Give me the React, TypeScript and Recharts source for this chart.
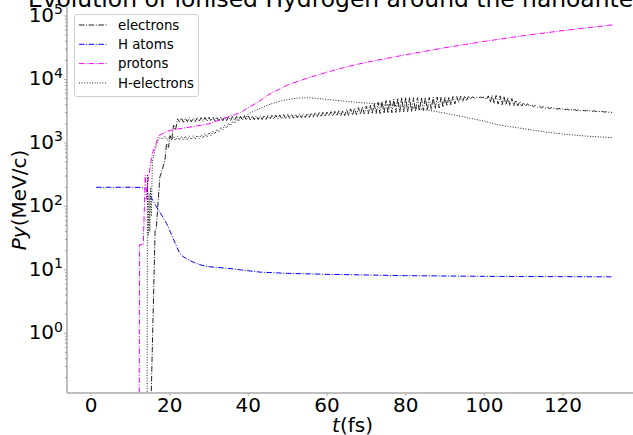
import { LineChart, Line, XAxis, YAxis } from 'recharts'

// time axis ticks (fs) and log-axis decades
const xTicks = [0, 20, 40, 60, 80, 100, 120]
const majorTicks = [1, 10, 100, 1000, 10000, 100000]
const minorTicks = [0.2, 0.3, 0.4, 0.5, 0.6, 0.7, 0.8, 0.9, 2, 3, 4, 5, 6, 7, 8, 9, 20, 30, 40, 50, 60, 70, 80, 90,
  200, 300, 400, 500, 600, 700, 800, 900, 2000, 3000, 4000, 5000, 6000, 7000, 8000, 9000,
  20000, 30000, 40000, 50000, 60000, 70000, 80000, 90000]

// H atoms [t, Py]
const hAtoms: [number, number][] = [
  [1.3, 200], [5, 200], [10, 200], [12.5, 199], [13.7, 193], [14.7, 160], [15.7, 125], [16.6, 100],
  [17.5, 81], [18.3, 67], [19.2, 54], [20.0, 42], [20.9, 31], [21.8, 23], [22.6, 18], [23.4, 16.2],
  [24.3, 15], [26, 13.2], [27.7, 12], [30, 11.2], [34.5, 10.6], [38, 10], [43, 9.2], [50, 8.8],
  [60, 8.5], [70, 8.3], [80, 8.1], [90, 8.0], [100, 7.9], [110, 7.85], [120, 7.8], [132.5, 7.75],
]

// protons [t, Py]
const protons: [number, number][] = [
  [12.25, 0.02], [12.35, 25], [13.3, 25], [13.8, 310], [14.2, 130], [14.5, 250], [15.2, 480], [15.6, 680],
  [16.5, 980], [17.2, 1300], [18.9, 1480], [20.6, 1600], [23.2, 1700], [25.7, 1800], [30, 2000],
  [34, 2450], [38, 3000], [40, 3600], [42.5, 4400], [45, 5700], [50, 8200], [55, 10500], [60, 13000],
  [65, 15800], [70, 18600], [80, 24500], [90, 31600], [100, 39800], [110, 49000], [120, 58900], [132.5, 72400],
]

// electrons: rise, then sampled every 0.5 fs from 22.5 fs
const electronsRise: [number, number][] = [
  [15.1, 0.03], [16.3, 42], [16.6, 45], [17.5, 290], [17.9, 340], [18.8, 530], [19.2, 980], [19.7, 850],
  [20.1, 1300], [20.5, 1100], [21.0, 1900], [21.5, 1600], [22.0, 2400],
]
const electronsStart = 22.5
const electronsStep = 0.5
const electronsOsc = [
  2150, 2480, 2120, 2460, 2160, 2500, 2140, 2450, 2170, 2480, 2180, 2500, 2190, 2520, 2200,
  2540, 2210, 2550, 2220, 2560, 2230, 2560, 2240, 2580, 2250, 2590, 2260, 2600, 2270, 2610, 2280, 2630, 2290, 2640, 2300,
  2650, 2310, 2670, 2320, 2680, 2330, 2690, 2340, 2700, 2350, 2710, 2360, 2720, 2370, 2740, 2390, 2760, 2400, 2780, 2410,
  2800, 2430, 2820, 2450, 2840, 2470, 2870, 2490, 2890, 2510, 2920, 2530, 2950, 2550, 2980, 2570, 3000, 2590, 3030, 2610,
  3060, 2640, 3100, 2650, 3150, 2660, 3200, 2680, 3250, 2700,
  3390, 2700, 3450, 2730, 3520, 2770, 3600, 2810, 3680, 2860,
  3800, 2880, 3950, 2880, 4150, 2890, 4350, 2900, 4550, 2920,
  4650, 2950, 4750, 2980, 4900, 3020, 5050, 3060, 5200, 3080,
  5200, 3100, 5200, 3120, 5150, 3150, 5150, 3200, 5150, 3250,
  5200, 3300, 5200, 3380, 5250, 3450, 5280, 3550, 5300, 3650,
  5300, 3800, 5350, 3950, 5380, 4100, 5400, 4300, 5450, 4500,
  5500, 4700, 5450, 4900, 5350, 5050, 5250, 5150, 5250, 5200,
  5250, 4800, 5500, 4400, 5600, 4200, 5600, 4100, 5500, 4000,
  5400, 3950, 5200, 3900, 5000, 3850, 4700, 3850, 4450, 3800,
  4300, 3800, 4150, 3750, 4000, 3700, 3900, 3650, 3800, 3580,
  3720, 3520, 3650, 3480, 3600, 3440, 3550, 3400, 3500, 3370,
  3450, 3330, 3420, 3300, 3380, 3270, 3350, 3250, 3320, 3220,
  3280, 3200, 3250, 3170, 3220, 3150, 3190, 3120, 3150, 3100, 3120, 3070, 3090, 3050, 3060, 3020,
]

// H-electrons: spikes, 0.5 fs samples 19..40 fs, then smooth tail
const hElectronsRise: [number, number][] = [
  [14.25, 0.02], [14.35, 320], [14.55, 35], [14.75, 150], [14.95, 40], [15.15, 200], [15.35, 70],
  [15.6, 500], [16.2, 750], [16.8, 1000], [17.5, 1230], [18.2, 1150], [18.6, 1250],
]
const hElectronsStart = 19
const hElectronsStep = 0.5
const hElectronsOsc = [
  1250, 1100, 1270, 1110, 1260, 1100, 1270, 1110, 1270, 1110, 1280, 1120, 1290, 1130, 1300, 1140,
  1320, 1160, 1350, 1190, 1400, 1240, 1460, 1300, 1540, 1380, 1640, 1480, 1760, 1590, 1900, 1720,
  2050, 1870, 2200, 2030, 2380, 2200, 2530, 2380, 2720, 2570, 2870,
]
const hElectronsTail: [number, number][] = [
  [42, 3300], [44.7, 3900], [47, 4350], [49, 4700], [51, 4950], [53, 5100], [55, 5150], [57, 5050],
  [60, 4850], [62, 4700], [65, 4500], [70, 4250], [75, 4050], [78, 3850], [82, 3550], [86, 3250],
  [90, 2950], [95, 2550], [100, 2200], [104, 1900], [108, 1750], [112, 1600], [116, 1470], [121, 1360],
  [126, 1280], [132.5, 1210],
]

const toRows = (pts: [number, number][]) => pts.map(([t, v]) => ({ t, v }))
const hAtomsData = toRows(hAtoms)
const protonsData = toRows(protons)
const electronsData = [
  ...toRows(electronsRise),
  ...electronsOsc.map((v, i) => ({ t: electronsStart + i * electronsStep, v })),
]
const hElectronsData = [
  ...toRows(hElectronsRise),
  ...hElectronsOsc.map((v, i) => ({ t: hElectronsStart + i * hElectronsStep, v })),
  ...toRows(hElectronsTail),
]

const FONT = 'DejaVu Sans'
const DASHDOT = '5.5 1.6 1 1.6'
const DOTTED = '1 1.6'

const series = [
  { name: 'electrons', data: electronsData, color: '#222', dash: DASHDOT },
  { name: 'H atoms', data: hAtomsData, color: '#0000ff', dash: DASHDOT },
  { name: 'protons', data: protonsData, color: '#ff00ff', dash: DASHDOT },
  { name: 'H-electrons', data: hElectronsData, color: '#222', dash: DOTTED },
]

const PLOT_LEFT = 67

function YTick(props: any) {
  const { y, payload } = props
  const v = payload.value
  if (!majorTicks.includes(v)) {
    return <line x1={PLOT_LEFT} x2={PLOT_LEFT - 2} y1={y} y2={y} stroke="#999" strokeWidth={1} />
  }
  const exp = Math.round(Math.log10(v))
  return (
    <g>
      <line x1={PLOT_LEFT} x2={PLOT_LEFT - 3} y1={y} y2={y} stroke="#aaa" strokeWidth={1} />
      <text x={63} y={y + 6} textAnchor="end" fontSize={20} fontFamily={FONT} fill="#000">
        10<tspan dy={-7.5} fontSize={14}>{exp}</tspan>
      </text>
    </g>
  )
}

// legend box drawn over the axes, upper left
function LegendBox() {
  const rows = [11, 30.3, 49.6, 68.9]
  return (
    <div
      style={{
        position: 'absolute',
        left: 74,
        top: 14,
        width: 125,
        height: 83,
        boxSizing: 'border-box',
        border: '1px solid #d0d0d0',
        borderRadius: 3,
        background: 'rgba(255,255,255,0.8)',
      }}
    >
      <svg width={123} height={81} style={{ display: 'block' }}>
        {series.map((s, i) => (
          <g key={s.name}>
            <line x1={4} x2={32} y1={rows[i] - 1} y2={rows[i] - 1} stroke={s.color} strokeWidth={1} strokeDasharray={s.dash} />
            <text x={43} y={rows[i] + 3.7} fontSize={13.3} fontFamily={FONT} fill="#000">
              {s.name}
            </text>
          </g>
        ))}
      </svg>
    </div>
  )
}

export default function App() {
  return (
    <div style={{ position: 'absolute', left: 0, top: 0, width: 633, height: 435, overflow: 'hidden', background: '#fff' }}>
      <LineChart width={633} height={435} margin={{ top: 7, right: 0, left: 0, bottom: 0 }}>
        <XAxis
          type="number"
          dataKey="t"
          domain={[-6.1, 137.8]}
          ticks={xTicks}
          allowDataOverflow
          height={42}
          tickSize={3}
          tickMargin={2}
          axisLine={{ stroke: '#aaa', strokeWidth: 1.5 }}
          tickLine={{ stroke: '#aaa' }}
          tick={{ fontSize: 20, fill: '#000', fontFamily: FONT }}
        />
        <YAxis
          type="number"
          scale="log"
          domain={[0.1146, 138600]}
          allowDataOverflow
          ticks={[...minorTicks, ...majorTicks]}
          interval={0}
          width={PLOT_LEFT}
          tickLine={false}
          tick={<YTick />}
          axisLine={{ stroke: '#aaa', strokeWidth: 1.5 }}
        />
        {series.map((s) => (
          <Line
            key={s.name}
            data={s.data}
            dataKey="v"
            name={s.name}
            type="linear"
            stroke={s.color}
            strokeWidth={1}
            strokeDasharray={s.dash}
            dot={false}
            activeDot={false}
            isAnimationActive={false}
          />
        ))}
        <text x={352.5} y={7} textAnchor="middle" fontSize={23.4} fontFamily={FONT} fill="#000">
          Evolution of ionised Hydrogen around the nanoantenna
        </text>
        <text x={352.5} y={432} textAnchor="middle" fontSize={20} fontFamily={FONT} fill="#000">
          <tspan fontStyle="italic">t</tspan>(fs)
        </text>
        <text transform="rotate(-90)" x={-200} y={26} textAnchor="middle" fontSize={20} fontFamily={FONT} fill="#000">
          <tspan fontStyle="italic">Py</tspan>(MeV/c)
        </text>
      </LineChart>
      <LegendBox />
    </div>
  )
}
